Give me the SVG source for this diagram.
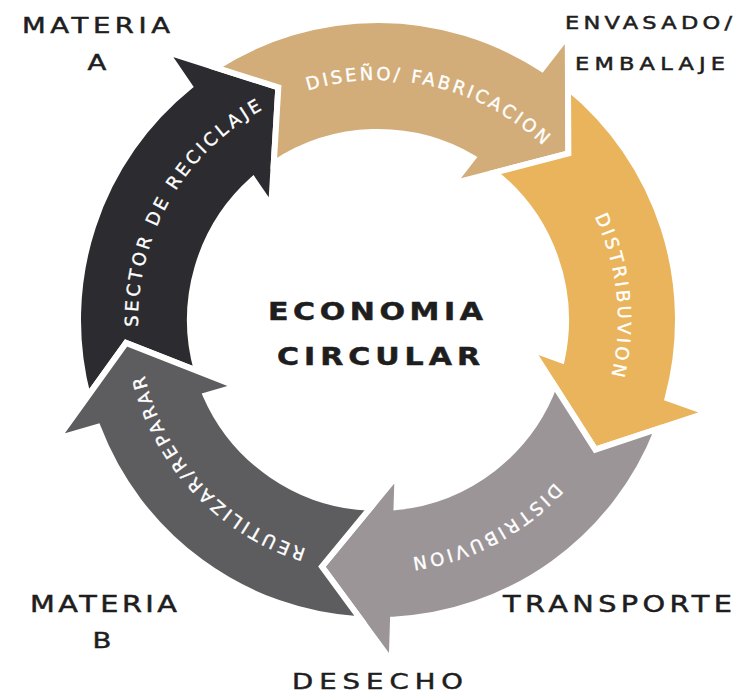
<svg xmlns="http://www.w3.org/2000/svg" xmlns:xlink="http://www.w3.org/1999/xlink" width="737" height="693" viewBox="0 0 737 693">
<style>
.arrow{stroke:#ffffff;stroke-width:6;stroke-linejoin:miter}
.lbl{font-family:"DejaVu Sans","Liberation Sans",sans-serif;font-size:18px;fill:#ffffff;stroke:#ffffff;stroke-width:0.35}
.out{font-family:"DejaVu Sans","Liberation Sans",sans-serif;fill:#1e1e1e;stroke:#1e1e1e;stroke-width:0.5;text-anchor:middle}
</style>
<defs>
<path id="arrowShape" d="M 44.35 -296.70 A 300 300 0 0 1 288.85 -81.04 L 330.19 -89.09 L 253 0 L 146.59 -53.36 L 178.32 -59.54 A 188 188 0 0 0 24.65 -186.38 L 78.18 -240.62 Z"/>
<path id="pTan" d="M 307.83 90.49 A 240 240 0 0 1 570.93 177.24"/>
<path id="pGold" d="M 594.62 216.68 A 240 240 0 0 1 598.09 415.70"/>
<path id="pGray" d="M 554.66 482.45 A 240 240 0 0 1 370.88 559.89"/>
<path id="pDark" d="M 306.23 549.02 A 240 240 0 0 1 138.40 333.81"/>
<path id="pBlack" d="M 138.09 326.70 A 240 240 0 0 1 300.66 92.80"/>
</defs>
<rect width="737" height="693" fill="#ffffff"/>
<g id="connectors"></g>
<g id="sector-reciclaje">
<use xlink:href="#arrowShape" href="#arrowShape" class="arrow" fill="#2C2C30" transform="translate(378 320) rotate(-113.2)"/>
<text class="lbl"><textPath href="#pBlack" xlink:href="#pBlack" textLength="263" lengthAdjust="spacing">SECTOR DE RECICLAJE</textPath></text>
</g>
<g id="diseno-fabricacion">
<use xlink:href="#arrowShape" href="#arrowShape" class="arrow" fill="#D2AD79" transform="translate(378 320) rotate(-41.2)"/>
<text class="lbl"><textPath href="#pTan" xlink:href="#pTan" textLength="253" lengthAdjust="spacing">DISEÑO/ FABRICACION</textPath></text>
</g>
<g id="distribucion-1">
<use xlink:href="#arrowShape" href="#arrowShape" class="arrow" fill="#E9B45B" transform="translate(378 320) rotate(30.8)"/>
<text class="lbl"><textPath href="#pGold" xlink:href="#pGold" textLength="163" lengthAdjust="spacing">DISTRIBUVION</textPath></text>
</g>
<g id="distribucion-2">
<use xlink:href="#arrowShape" href="#arrowShape" class="arrow" fill="#9B9598" transform="translate(378 320) rotate(102.8)"/>
<text class="lbl"><textPath href="#pGray" xlink:href="#pGray" textLength="164" lengthAdjust="spacing">DISTRIBUVION</textPath></text>
</g>
<g id="reutilizar-reparar">
<use xlink:href="#arrowShape" href="#arrowShape" class="arrow" fill="#5D5D5F" transform="translate(378 320) rotate(174.8)"/>
<text class="lbl"><textPath href="#pDark" xlink:href="#pDark" textLength="248" lengthAdjust="spacing">REUTILIZAR/REPARAR</textPath></text>
</g>
<g id="centro">
<text class="out" transform="scale(1.25 1)" x="300.4" y="320" font-size="24" font-weight="bold" stroke-width="0" textLength="172" lengthAdjust="spacing">ECONOMIA</text>
<text class="out" transform="scale(1.25 1)" x="302.8" y="365" font-size="24" font-weight="bold" stroke-width="0" textLength="162.4" lengthAdjust="spacing">CIRCULAR</text>
</g>
<g id="materia-a">
<text class="out" transform="scale(1.25 1)" x="76.8" y="33" font-size="22" textLength="118.4" lengthAdjust="spacing">MATERIA</text>
<text class="out" transform="scale(1.25 1)" x="77.6" y="70" font-size="22">A</text>
</g>
<g id="envasado">
<text class="out" transform="scale(1.25 1)" x="518.8" y="29" font-size="18" textLength="133.6" lengthAdjust="spacing">ENVASADO/</text>
<text class="out" transform="scale(1.25 1)" x="520" y="70" font-size="18" textLength="120" lengthAdjust="spacing">EMBALAJE</text>
</g>
<g id="transporte">
<text class="out" transform="scale(1.25 1)" x="494" y="612" font-size="23" textLength="183.2" lengthAdjust="spacing">TRANSPORTE</text>
</g>
<g id="desecho">
<text class="out" transform="scale(1.25 1)" x="302" y="689" font-size="22" textLength="136.8" lengthAdjust="spacing">DESECHO</text>
</g>
<g id="materia-b">
<text class="out" transform="scale(1.25 1)" x="82.8" y="612" font-size="23" textLength="117.6" lengthAdjust="spacing">MATERIA</text>
<text class="out" transform="scale(1.25 1)" x="81.6" y="648" font-size="22">B</text>
</g>
</svg>
